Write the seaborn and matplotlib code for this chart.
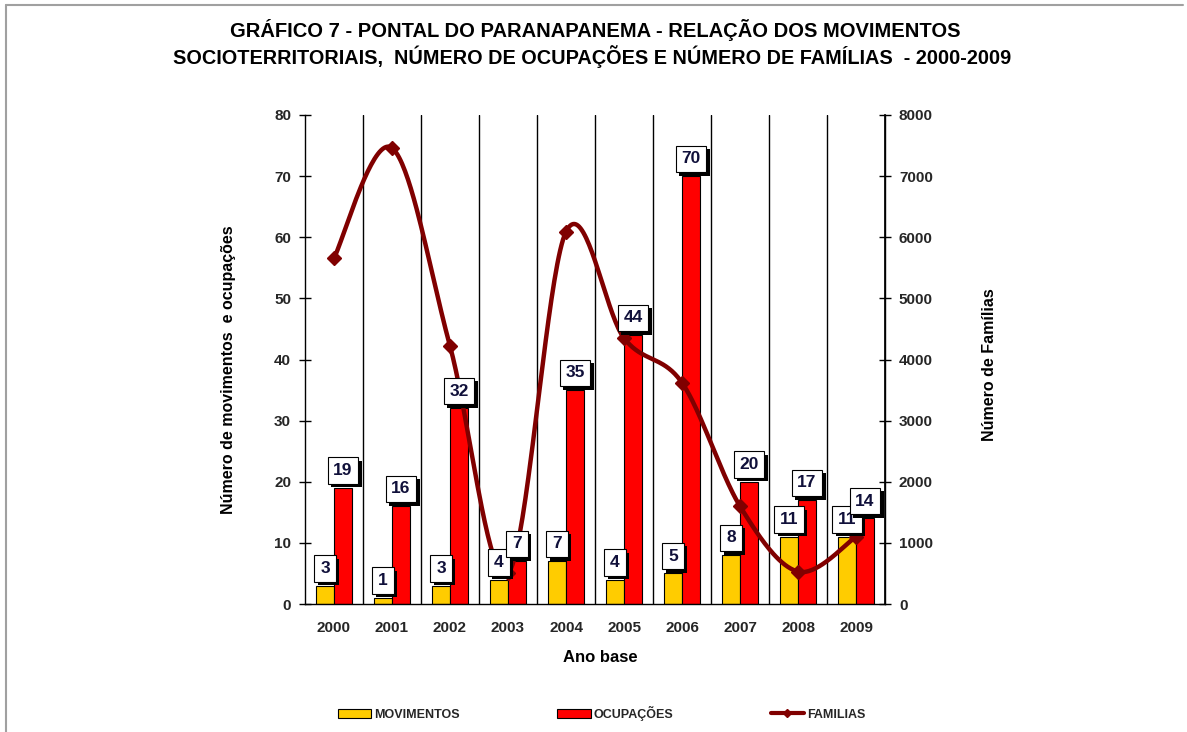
import numpy as np
import pandas as pd
import matplotlib
matplotlib.use('Agg')
import matplotlib.pyplot as plt
import seaborn as sns
from matplotlib import patheffects as pe
from matplotlib.lines import Line2D
from matplotlib.patches import Patch

years = ['2000', '2001', '2002', '2003', '2004', '2005', '2006', '2007', '2008', '2009']
movimentos = [3, 1, 3, 4, 7, 4, 5, 8, 11, 11]
ocupacoes = [19, 16, 32, 7, 35, 44, 70, 20, 17, 14]
familias = [5660, 7460, 4220, 500, 6090, 4350, 3620, 1600, 530, 1100]
left_ticks = [0, 10, 20, 30, 40, 50, 60, 70, 80]
right_ticks = [0, 1000, 2000, 3000, 4000, 5000, 6000, 7000, 8000]

YELLOW = '#FFCC00'
RED = '#FF0000'
DARKRED = '#800000'

sns.set_theme(style='white')
plt.rcParams['font.family'] = ['Liberation Sans', 'DejaVu Sans']
plt.rcParams['font.weight'] = 'bold'

fig = plt.figure(figsize=(11.87, 7.32), dpi=100)
W, H = 1187, 732
ax = fig.add_axes([305 / W, 1 - 604 / H, 580 / W, 489 / H])

df = pd.DataFrame({
    'Ano': years * 2,
    'Valor': movimentos + ocupacoes,
    'Serie': ['MOVIMENTOS'] * len(years) + ['OCUPAÇÕES'] * len(years),
})
sns.barplot(data=df, x='Ano', y='Valor', hue='Serie', palette=[YELLOW, RED],
            width=0.62, edgecolor='black', linewidth=0.8, saturation=1,
            legend=False, ax=ax, zorder=2)

TICK_FS = 11
ax.set_xlim(-0.5, len(years) - 0.5)
ax.set_ylim(0, 80)
ax.set_yticks(left_ticks)
ax.set_yticklabels([str(t) for t in left_ticks], fontsize=TICK_FS, fontweight='bold')
ax.set_xticks(range(len(years)))
ax.set_xticklabels(years, fontsize=TICK_FS, fontweight='bold')
ax.set_xticks(np.arange(-0.5, len(years)), minor=True)
ax.tick_params(axis='x', which='major', length=0, pad=12)
ax.tick_params(axis='x', which='minor', direction='out', length=6, width=1, color='black')
ax.tick_params(axis='y', direction='inout', length=8, width=1, color='black', pad=6)
ax.set_xlabel('')
ax.set_ylabel('')
for b in np.arange(0.5, len(years) - 1):
    ax.axvline(b, color='black', lw=1, zorder=1)
for s in ['left', 'bottom', 'right']:
    ax.spines[s].set_color('black')
    ax.spines[s].set_linewidth(1)
ax.spines['top'].set_visible(False)

ax2 = ax.twinx()
ax2.set_ylim(0, 8000)
ax2.set_yticks(right_ticks)
ax2.set_yticklabels([str(t) for t in right_ticks], fontsize=TICK_FS, fontweight='bold')
ax2.tick_params(axis='y', direction='inout', length=8, width=1, color='black', pad=6)
ax2.spines['top'].set_visible(False)
ax2.spines['right'].set_color('black')
ax2.spines['left'].set_visible(False)
ax2.spines['bottom'].set_visible(False)
ax2.grid(False)


def catmull_rom(xs, ys, n=40):
    P = np.column_stack([xs, ys]).astype(float)
    P = np.vstack([P[0], P, P[-1]])
    pts = []
    t = np.linspace(0, 1, n, endpoint=False)[:, None]
    for i in range(1, len(P) - 2):
        p0, p1, p2, p3 = P[i - 1], P[i], P[i + 1], P[i + 2]
        seg = 0.5 * (2 * p1 + (-p0 + p2) * t + (2 * p0 - 5 * p1 + 4 * p2 - p3) * t ** 2
                     + (-p0 + 3 * p1 - 3 * p2 + p3) * t ** 3)
        pts.append(seg)
    pts.append(P[-2][None, :])
    pts = np.vstack(pts)
    return pts[:, 0], pts[:, 1]


xi = np.arange(len(years))
sx, sy = catmull_rom(xi, familias)
ax2.plot(sx, sy, color=DARKRED, lw=3.2, zorder=3, solid_capstyle='round')
ax2.plot(xi, familias, linestyle='none', marker='D', ms=7, color=DARKRED, zorder=3)

for i, (m, o) in enumerate(zip(movimentos, ocupacoes)):
    for xoff, v in ((-0.155, m), (0.155, o)):
        t = ax2.annotate(str(v), xy=(i + xoff, v), xycoords=ax.transData,
                         xytext=(0, 7), textcoords='offset points',
                         ha='center', va='bottom', fontsize=12.5, fontweight='bold',
                         color='#10103a', zorder=5,
                         bbox=dict(boxstyle='square,pad=0.33', fc='white', ec='black', lw=0.8))
        t.get_bbox_patch().set_path_effects([
            pe.SimplePatchShadow(offset=(2.5, -2.5), shadow_rgbFace='black', alpha=1),
            pe.Normal()])

fig.text(595 / W, 1 - 30 / H, 'GRÁFICO 7 - PONTAL DO PARANAPANEMA - RELAÇÃO DOS MOVIMENTOS',
         ha='center', va='center', fontsize=14.5, fontweight='bold', color='black')
fig.text(592 / W, 1 - 57 / H,
         'SOCIOTERRITORIAIS,  NÚMERO DE OCUPAÇÕES E NÚMERO DE FAMÍLIAS  - 2000-2009',
         ha='center', va='center', fontsize=14.3, fontweight='bold', color='black')

fig.text(600 / W, 1 - 657 / H, 'Ano base', ha='center', va='center', fontsize=12,
         fontweight='bold', color='black')
fig.text(228 / W, 1 - 370 / H, 'Número de movimentos  e ocupações', rotation=90,
         ha='center', va='center', fontsize=11.5, fontweight='bold', color='black')
fig.text(990 / W, 1 - 365 / H, 'Número de Famílias', rotation=90,
         ha='center', va='center', fontsize=11.5, fontweight='bold', color='black')

handles = [Patch(facecolor=YELLOW, edgecolor='black', lw=0.8),
           Patch(facecolor=RED, edgecolor='black', lw=0.8),
           Line2D([], [], color=DARKRED, lw=3, marker='D', ms=4)]
fig.legend(handles, ['MOVIMENTOS', 'OCUPAÇÕES', 'FAMILIAS'], loc='center',
           bbox_to_anchor=(0.507, 1 - 713 / H), ncol=3, frameon=False,
           prop={'size': 9, 'weight': 'bold'}, handlelength=2.65, handleheight=0.7,
           columnspacing=7.8, handletextpad=0.25)

fig.add_artist(Line2D([6 / W, 1183 / W], [1 - 5 / H, 1 - 5 / H], color='#a0a0a0', lw=1.5,
                      transform=fig.transFigure))
fig.add_artist(Line2D([6 / W, 6 / W], [0, 1 - 5 / H], color='#a0a0a0', lw=1.5,
                      transform=fig.transFigure))

fig.savefig('out.png', dpi=100, facecolor='white')
